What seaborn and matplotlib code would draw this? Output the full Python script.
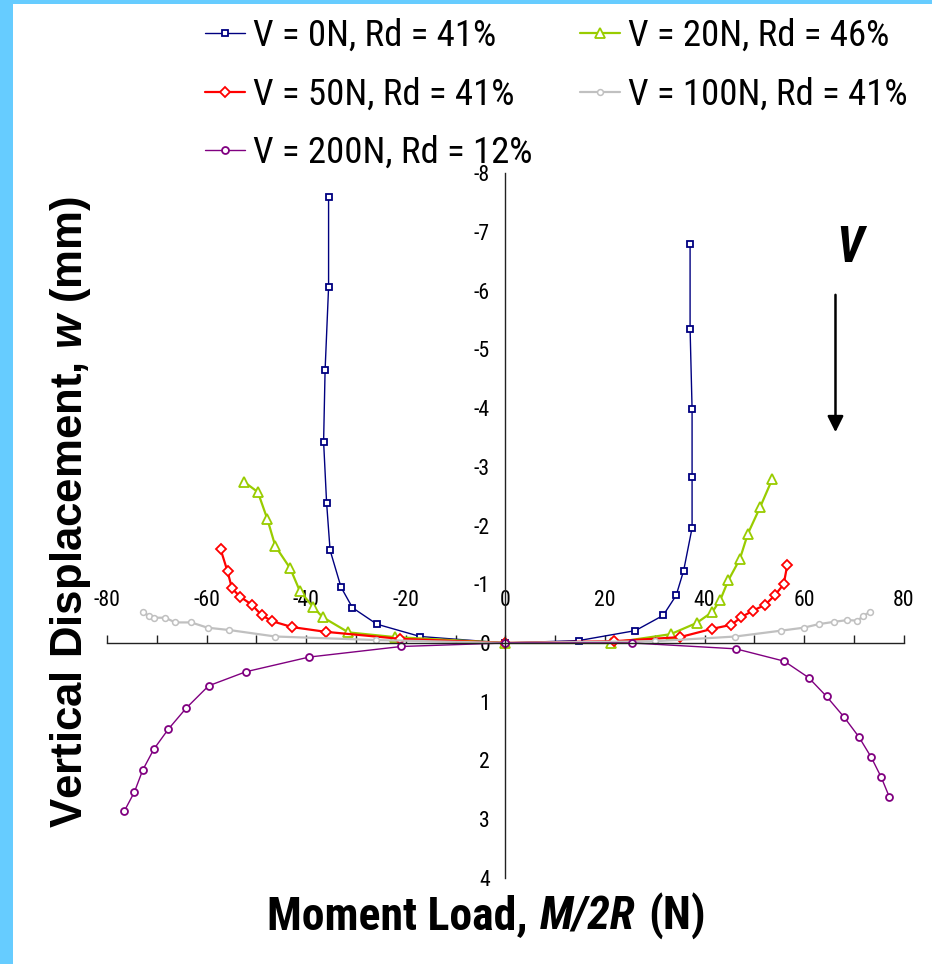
import os
import matplotlib
matplotlib.use("Agg")
import matplotlib.pyplot as plt
from matplotlib import font_manager as fm
from matplotlib.patches import Rectangle
import seaborn as sns

# Moment load M/2R (N) and vertical displacement w (mm)
v0_x = [-35.5, -35.5, -36.2, -36.5, -35.9, -35.2, -33.0, -30.7, -25.8, -17.1, 0,
        14.7, 26.1, 31.7, 34.3, 35.8, 37.5, 37.5, 37.5, 37.1, 37.1]
v0_y = [-7.60, -6.06, -4.65, -3.43, -2.39, -1.58, -0.95, -0.60, -0.32, -0.11, 0,
        -0.04, -0.21, -0.47, -0.81, -1.23, -1.96, -2.83, -3.99, -5.35, -6.79]

v20_x = [-52.4, -49.7, -47.8, -46.2, -43.2, -41.3, -38.7, -36.7, -31.5, -22.2, 0,
         21.2, 33.2, 38.4, 41.6, 43.2, 44.8, 47.1, 48.7, 51.2, 53.6]
v20_y = [-2.74, -2.57, -2.11, -1.65, -1.27, -0.89, -0.62, -0.44, -0.18, -0.10, 0,
         0.0, -0.15, -0.34, -0.53, -0.74, -1.07, -1.43, -1.86, -2.32, -2.79]

v50_x = [-57.2, -55.8, -54.9, -53.3, -50.9, -48.9, -46.8, -42.8, -36.1, -21.1, 0,
         21.8, 35.1, 41.5, 45.4, 47.4, 49.7, 52.2, 54.2, 55.9, 56.6]
v50_y = [-1.60, -1.22, -0.93, -0.79, -0.65, -0.47, -0.37, -0.27, -0.19, -0.07, 0,
         -0.03, -0.10, -0.24, -0.31, -0.44, -0.55, -0.65, -0.82, -1.00, -1.32]

v100_x = [-72.8, -71.6, -70.6, -68.3, -66.3, -63.1, -59.8, -55.4, -46.2, -26.0, 0,
          30.1, 46.2, 55.4, 59.9, 62.9, 66.0, 68.7, 70.7, 71.9, 73.2]
v100_y = [-0.53, -0.46, -0.43, -0.43, -0.35, -0.35, -0.26, -0.22, -0.11, -0.05, 0,
          -0.03, -0.11, -0.21, -0.26, -0.32, -0.36, -0.39, -0.38, -0.46, -0.53]

v200_x = [-76.5, -74.5, -72.8, -70.6, -67.7, -64.1, -59.6, -52.1, -39.4, -20.9, 0,
          25.5, 46.3, 56.0, 60.9, 64.5, 68.0, 71.0, 73.5, 75.5, 77.1]
v200_y = [2.86, 2.54, 2.16, 1.81, 1.47, 1.11, 0.73, 0.49, 0.24, 0.06, 0,
          0.0, 0.10, 0.31, 0.59, 0.91, 1.26, 1.60, 1.95, 2.29, 2.62]

labels = ["V = 0N, Rd = 41%", "V = 20N, Rd = 46%", "V = 50N, Rd = 41%",
          "V = 100N, Rd = 41%", "V = 200N, Rd = 12%"]
x_ticks = [-80, -60, -40, -20, 0, 20, 40, 60, 80]
y_ticks = [-8, -7, -6, -5, -4, -3, -2, -1, 0, 1, 2, 3, 4]


def pick_font(candidates, family, weight="normal", style="normal"):
    """Find a narrow font file among the installed ones, else a plain family."""
    files = {}
    for f in fm.fontManager.ttflist:
        files.setdefault(os.path.basename(f.fname), f.fname)
    for c in candidates:
        if c in files:
            return fm.FontProperties(fname=files[c])
    return fm.FontProperties(family=family, weight=weight, style=style)


fp_reg = pick_font(["LiberationSansNarrow-Regular.ttf", "RobotoCondensed-Regular.ttf",
                    "Roboto_Condensed-Regular.ttf", "NotoSans-Condensed.ttf",
                    "DejaVuSansCondensed.ttf"], "Liberation Sans")
fp_bold = pick_font(["LiberationSansNarrow-Bold.ttf", "RobotoCondensed-Bold.ttf",
                     "Roboto_Condensed-Bold.ttf", "NotoSans-CondensedBold.ttf",
                     "DejaVuSansCondensed-Bold.ttf"], "Liberation Sans", weight="bold")
fp_bi = pick_font(["LiberationSansNarrow-BoldItalic.ttf", "RobotoCondensed-BoldItalic.ttf",
                   "Roboto_Condensed-BoldItalic.ttf", "NotoSans-CondensedBoldItalic.ttf",
                   "DejaVuSansCondensed-BoldOblique.ttf"], "Liberation Sans",
                  weight="bold", style="italic")

sns.set_theme(style="white")
plt.rcParams["font.family"] = ["Liberation Sans", "DejaVu Sans"]
plt.rcParams["axes.unicode_minus"] = False
plt.rcParams["text.color"] = "black"
plt.rcParams["mathtext.fontset"] = "custom"
plt.rcParams["mathtext.it"] = "Liberation Sans:italic:bold"

W, H = 932, 964
fig = plt.figure(figsize=(W / 100, H / 100), dpi=100)
fig.patch.set_facecolor("white")
renderer = fig.canvas.get_renderer()


def sized(fp, size):
    p = fp.copy()
    p.set_size(size)
    return p


def measure(text, fp, size=20):
    t = fig.text(0, 0, text, fontproperties=sized(fp, size))
    bb = t.get_window_extent(renderer)
    t.remove()
    return bb.width, bb.height


def fit(text, fp, target_w, max_pt):
    w, _ = measure(text, fp)
    return min(20 * target_w / w, max_pt)


ax = fig.add_axes([107 / W, 1 - 877.8 / H, 796.7 / W, 704.5 / H])
ax.set_facecolor("none")

# light blue frame strips (left and top)
fig.add_artist(Rectangle((0, 0), 13 / W, 1, transform=fig.transFigure,
                         color="#66CCFF", lw=0))
fig.add_artist(Rectangle((0, 1 - 4 / H), 1, 4 / H, transform=fig.transFigure,
                         color="#66CCFF", lw=0))

series = [
    (v0_x, v0_y, labels[0], "#000080", "s", 5, 1.0, 1.3),
    (v20_x, v20_y, labels[1], "#99CC00", "^", 6.5, 1.6, 1.3),
    (v50_x, v50_y, labels[2], "#FF0000", "D", 5, 1.6, 1.3),
    (v100_x, v100_y, labels[3], "#C0C0C0", "o", 4.2, 1.6, 1.1),
    (v200_x, v200_y, labels[4], "#800080", "o", 5, 1.0, 1.3),
]
for xs, ys, lab, col, mk, ms, lw, mew in series:
    sns.lineplot(x=xs, y=ys, ax=ax, sort=False, estimator=None, color=col,
                 lw=lw, marker=mk, markersize=ms, markerfacecolor="white",
                 markeredgecolor=col, markeredgewidth=mew, label=lab)

ax.set_xlim(-80, 80)
ax.set_ylim(4, -8)
ax.spines["left"].set_position(("data", 0))
ax.spines["top"].set_position(("data", 0))
ax.spines["right"].set_visible(False)
ax.spines["bottom"].set_visible(False)
for s in ["left", "top"]:
    ax.spines[s].set_color("#222222")
    ax.spines[s].set_linewidth(1.0)
ax.xaxis.set_ticks_position("top")
ax.set_xticks(x_ticks)
ax.set_xticks(range(-80, 81, 10), minor=True)
ax.set_yticks(y_ticks)
ax.set_yticks([v / 2 for v in range(-16, 9)], minor=True)
ax.set_xticklabels([str(v) for v in x_ticks])
ax.set_yticklabels([str(v) for v in y_ticks])
ax.tick_params(axis="x", which="both", direction="out", length=6, width=1,
               color="#222222", pad=17, labelcolor="black")
ax.tick_params(axis="y", which="both", direction="out", length=5, width=1,
               color="#222222", pad=6, labelcolor="black")
tick_fp = sized(fp_reg, fit("-80", fp_reg, 27, 16.5))
for lab in ax.get_xticklabels() + ax.get_yticklabels():
    lab.set_fontproperties(tick_fp)
ax.set_xlabel("")
ax.set_ylabel("")

# legend: two columns, filled column-wise, sized to the reference text width
leg_pt = fit(labels[0], fp_reg, 244, 26.5)
leg_px = leg_pt * 100 / 72
_, text_h = measure(labels[0], fp_reg, leg_pt)
col1_w, _ = measure(labels[4], fp_reg, leg_pt)
handles, labs = ax.get_legend_handles_labels()
ax.get_legend().remove()
order = [0, 2, 4, 1, 3]
fig.legend([handles[i] for i in order], [labs[i] for i in order], ncol=2,
           loc="upper left", bbox_to_anchor=(205 / W, 1 - (36 - text_h / 2) / H),
           frameon=False, prop=sized(fp_reg, leg_pt), borderpad=0, borderaxespad=0,
           handlelength=40 / leg_px, handletextpad=8 / leg_px,
           labelspacing=(58.5 - text_h) / leg_px,
           columnspacing=max(580 - (205 + 48 + col1_w), 10) / leg_px)

# x label in three pieces: bold, bold italic, bold
pieces = [("Moment Load,", fp_bold), ("M/2R", fp_bi), ("(N)", fp_bold)]
w20 = sum(measure(t, f)[0] for t, f in pieces) + 2 * 0.27 * 20 * 100 / 72
xl_pt = min(20 * 439 / w20, 35)
gap = 0.27 * xl_pt * 100 / 72
widths = [measure(t, f, xl_pt)[0] for t, f in pieces]
x0 = 486.5 - (sum(widths) + 2 * gap) / 2
for (t, f), w in zip(pieces, widths):
    fig.text(x0 / W, 1 - 929 / H, t, ha="left", va="baseline",
             fontproperties=sized(f, xl_pt), color="black")
    x0 += w + gap

fig.text(82 / W, 1 - 512 / H, r"Vertical Displacement, $\mathit{w}$ (mm)",
         rotation=90, rotation_mode="anchor", ha="center", va="baseline",
         fontsize=31.5, fontweight="bold", family=["Liberation Sans", "DejaVu Sans"],
         color="black")

# load direction marker
ax.text(69.1, -6.49, "V", fontproperties=sized(fp_bi, 35), color="black",
        ha="center", va="baseline")
ax.annotate("", xy=(66.3, -3.59), xytext=(66.3, -5.93),
            arrowprops=dict(arrowstyle="-|>", color="black", lw=1.8,
                            mutation_scale=24, shrinkA=0, shrinkB=0))

fig.savefig("out.png", dpi=100)
